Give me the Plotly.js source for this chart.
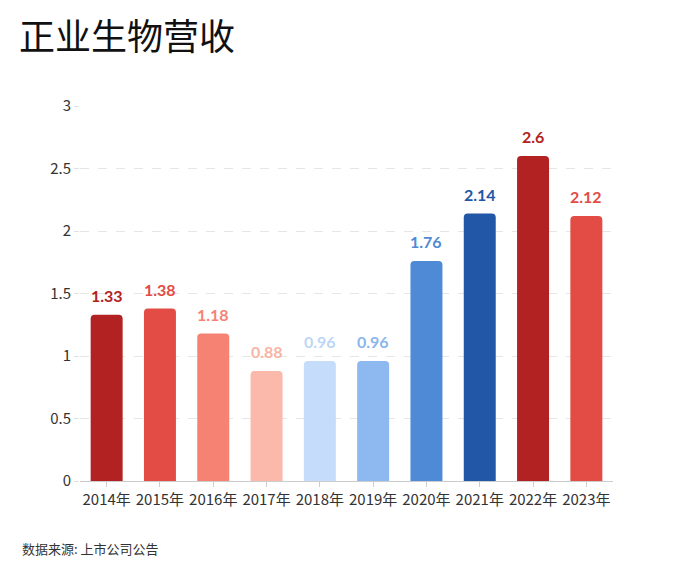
<!DOCTYPE html>
<html>
<head>
<meta charset="utf-8">
<script src="https://cdn.plot.ly/plotly-3.0.1.min.js"></script>
<style>html,body{margin:0;padding:0;background:#fff;}#chart{width:700px;height:576px;}</style>
</head>
<body>
<div id="chart"></div>
<script>
const years = ["2014年","2015年","2016年","2017年","2018年","2019年","2020年","2021年","2022年","2023年"];
const revenue = [1.33, 1.38, 1.18, 0.88, 0.96, 0.96, 1.76, 2.14, 2.6, 2.12];
const barColors = ["#b22222","#e24c45","#f58273","#fbb9ab","#c5dcfa","#8db8f0","#4f8ad6","#2257a8","#b22222","#e24c45"];
const labelColors = ["#b22222","#e24c45","#f58273","#f9b3a5","#bcd6f7","#8ab6ee","#4f8ad6","#2257a8","#b22222","#e24c45"];
const yTicks = [0, 0.5, 1, 1.5, 2, 2.5, 3];

const trace = {
  type: "bar",
  x: years,
  y: revenue,
  marker: {color: barColors, cornerradius: 4},
  hoverinfo: "x+y"
};

const valueLabels = years.map((yr, i) => ({
  x: yr, y: revenue[i], xref: "x", yref: "y",
  text: "<b>" + String(revenue[i]) + "</b>",
  showarrow: false, yanchor: "bottom", yshift: 8,
  font: {family: "Lato, 'Open Sans', sans-serif", size: 16, color: labelColors[i]}
}));

const layout = {
  width: 700, height: 576,
  margin: {l: 80, r: 87, t: 106, b: 95},
  paper_bgcolor: "#fff", plot_bgcolor: "#fff",
  bargap: 0.4,
  showlegend: false,
  font: {family: "'Noto Sans CJK SC', 'Noto Sans', sans-serif", color: "#333"},
  title: {text: "正业生物营收", x: 0.027, xanchor: "left", y: 0.935, yanchor: "middle",
          font: {family: "'Noto Sans CJK SC', sans-serif", size: 36, color: "#111"}},
  xaxis: {
    showline: true, linecolor: "#cccccc", linewidth: 1,
    ticks: "outside", ticklen: 5, tickcolor: "#cccccc",
    tickfont: {size: 15, color: "#333"},
    showgrid: false
  },
  yaxis: {
    range: [0, 3], tickvals: yTicks, ticktext: yTicks.map(String),
    showgrid: true, gridcolor: "#e6e6e6", griddash: "dash", gridwidth: 1,
    ticks: "outside", ticklen: 5, tickcolor: "#e0e0e0",
    tickfont: {size: 15, color: "#333"},
    zeroline: false, showline: false
  },
  annotations: valueLabels.concat([{
    text: "数据来源: 上市公司公告", xref: "paper", yref: "paper",
    x: -0.113, y: -0.181, xanchor: "left", yanchor: "middle", showarrow: false,
    font: {family: "'Noto Sans CJK SC', sans-serif", size: 13, color: "#333"}
  }])
};

Plotly.newPlot("chart", [trace], layout, {displayModeBar: false});
</script>
</body>
</html>
